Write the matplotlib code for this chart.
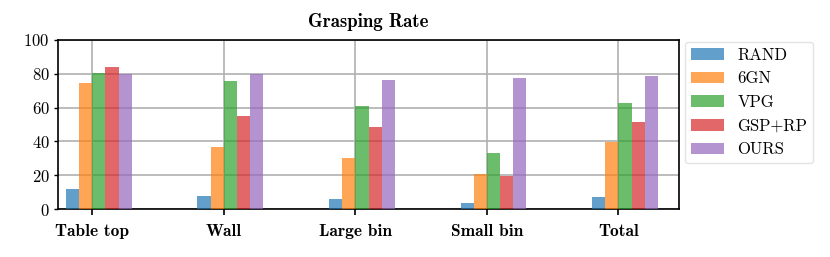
import matplotlib
matplotlib.use("Agg")
import matplotlib.pyplot as plt
import numpy as np

categories = ["Table top", "Wall", "Large bin", "Small bin", "Total"]
methods = ["RAND", "6GN", "VPG", "GSP+RP", "OURS"]
rand = [11.7, 7.9, 5.7, 3.7, 7.3]
sixgn = [74.4, 36.5, 30.0, 20.7, 39.5]
vpg = [80.5, 75.7, 60.9, 33.1, 62.7]
gsp = [83.8, 54.8, 48.3, 19.7, 51.7]
ours = [80.0, 79.9, 76.3, 77.5, 78.7]
series = [rand, sixgn, vpg, gsp, ours]
colors = ["tab:blue", "tab:orange", "tab:green", "tab:red", "tab:purple"]

plt.rcParams['font.family'] = ['cmr10', 'DejaVu Serif']
plt.rcParams['axes.formatter.use_mathtext'] = True

fig = plt.figure(figsize=(8.3, 2.57), dpi=100)
ax = fig.add_axes([58/830, 1-209/257, (679-58)/830, (209-40)/257])

x = np.arange(len(categories))
w = 0.1
for i, (vals, name, c) in enumerate(zip(series, methods, colors)):
    ax.bar(x + (i - 2) * w, vals, width=w, align='edge', color=c, alpha=0.7,
           label=name, zorder=3)

ax.set_xlim(-0.26, 4.46)
ax.set_ylim(0, 100)
ax.set_yticks([0, 20, 40, 60, 80, 100])
ax.set_xticks(x)
ax.set_xticklabels(categories, fontfamily='cmb10', fontsize=12.5)
ax.tick_params(axis='x', pad=7, length=4, width=1.2)
ax.tick_params(axis='y', labelsize=12, length=3, width=1, pad=3)
ax.grid(True, color='#b0b0b0', linewidth=1.2, zorder=0)
ax.set_axisbelow(True)
for s in ax.spines.values():
    s.set_linewidth(1.2)
    s.set_color('black')
ax.set_title("Grasping Rate", fontfamily='cmb10', fontsize=13.5, pad=9.5)

leg = ax.legend(loc='upper left', bbox_to_anchor=(1.0, 1.025), fontsize=12,
                frameon=True, handlelength=2.0, borderpad=0.35, labelspacing=0.5,
                handletextpad=0.8, borderaxespad=0.35)
leg.get_frame().set_edgecolor('#dddddd')

fig.savefig("out.png", dpi=100)
